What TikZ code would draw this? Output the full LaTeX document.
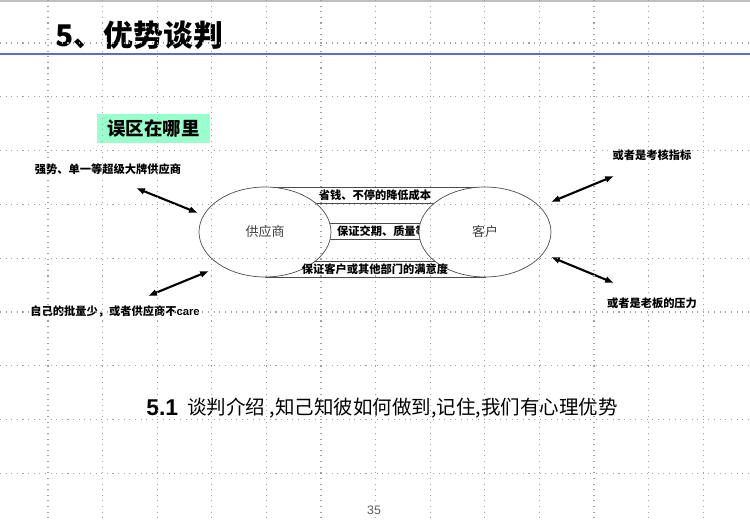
\documentclass[tikz,border=0pt]{standalone}
\usepackage{fontspec}
\setmainfont{Liberation Sans}
\newfontfamily\cjk{Noto Sans CJK SC}
\usepackage{tikz}
\usetikzlibrary{arrows.meta,shapes.geometric}
\definecolor{TitleBlue}{RGB}{104,104,204}
\definecolor{MintGreen}{RGB}{153,255,204}
\definecolor{GridGray}{RGB}{160,160,160}

\begin{document}
\begin{tikzpicture}[x=0.02cm,y=-0.02cm,
  party/.style={ellipse, draw=black!70, fill=white, minimum width=2.64cm, minimum height=1.8cm, inner sep=0pt, text=black!75, font=\cjk\fontsize{7.4}{8}\selectfont},
  band/.style={draw=black!70, fill=white, minimum height=0.32cm, inner sep=0pt, font=\cjk\bfseries\fontsize{6.4}{7}\selectfont},
  bandtext/.style={inner sep=0pt, font=\cjk\bfseries\fontsize{6.4}{7}\selectfont},
  note/.style={inner sep=1pt, font=\cjk\bfseries\fontsize{6.4}{7}\selectfont},
  push/.style={{Latex[length=5pt,width=4pt]}-{Latex[length=5pt,width=4pt]}, line width=1.2pt},
  gridline/.style={GridGray, line width=0.6pt, dash pattern=on 0.6pt off 2.6pt}]
\useasboundingbox (0,0) rectangle (750,520);
%
\draw[black!25, line width=1.5pt] (0,1) -- (750,1);
\node[anchor=west, inner sep=0pt, font=\cjk\bfseries\fontsize{17}{20}\selectfont] (title) at (55,35) {5、优势谈判};
\draw[TitleBlue, line width=1.2pt] (0,54) -- (750,54);
%
\node[fill=MintGreen, minimum width=2.26cm, minimum height=0.6cm, inner sep=0pt, font=\cjk\bfseries\fontsize{10.5}{12}\selectfont] (myth) at (153.5,128.5) {误区在哪里};
%
\node[band, minimum width=4.4cm] (cost) at (375,195) {省钱、不停的降低成本};
\node[band, minimum width=3cm] (delivery) at (382,231) {保证交期、质量等};
\node[band, minimum width=4.4cm] (satisfy) at (375,269) {};
%
\node[party] (sup) at (265,232) {供应商};
\node[party] (cli) at (485,232) {客户};
\node[bandtext] (satisfyText) at (satisfy) {保证客户或其他部门的满意度};
%
\node[note] (strong) at (108,169) {强势、单一等超级大牌供应商};
\node[note] (small) at (115,311) {自己的批量少，或者供应商不{\rmfamily\bfseries care}};
\node[note] (kpi) at (652,155) {或者是考核指标};
\node[note] (boss) at (652,303) {或者是老板的压力};
%
\coordinate (strongEnd) at (136,188);
\coordinate (strongTip) at (198,213);
\coordinate (smallEnd) at (148,296);
\coordinate (smallTip) at (209,271);
\coordinate (kpiEnd) at (614,176);
\coordinate (kpiTip) at (551,202);
\coordinate (bossEnd) at (614,283);
\coordinate (bossTip) at (551,257);
\draw[push] (strongEnd) -- (strongTip);
\draw[push] (smallEnd) -- (smallTip);
\draw[push] (kpiEnd) -- (kpiTip);
\draw[push] (bossEnd) -- (bossTip);
%
\node[anchor=west, inner sep=0pt, font=\bfseries\fontsize{13}{15}\selectfont] (secnum) at (146,408) {5.1};
\node[anchor=west, inner sep=0pt, font=\cjk\fontsize{11.1}{13}\selectfont] (sentence) at (187,408) {谈判介绍 ,知己知彼如何做到,记住,我们有心理优势};
\node[text=black!65, inner sep=0pt, font=\fontsize{7}{8}\selectfont] (page) at (374,510) {35};
%
\foreach \gx in {0,...,12}
  \draw[gridline] (48+54.6*\gx,0) -- (48+54.6*\gx,520);
\foreach \gy in {0,...,8}
  \draw[gridline] (0,43+53.8*\gy) -- (750,43+53.8*\gy);
\end{tikzpicture}
\end{document}
